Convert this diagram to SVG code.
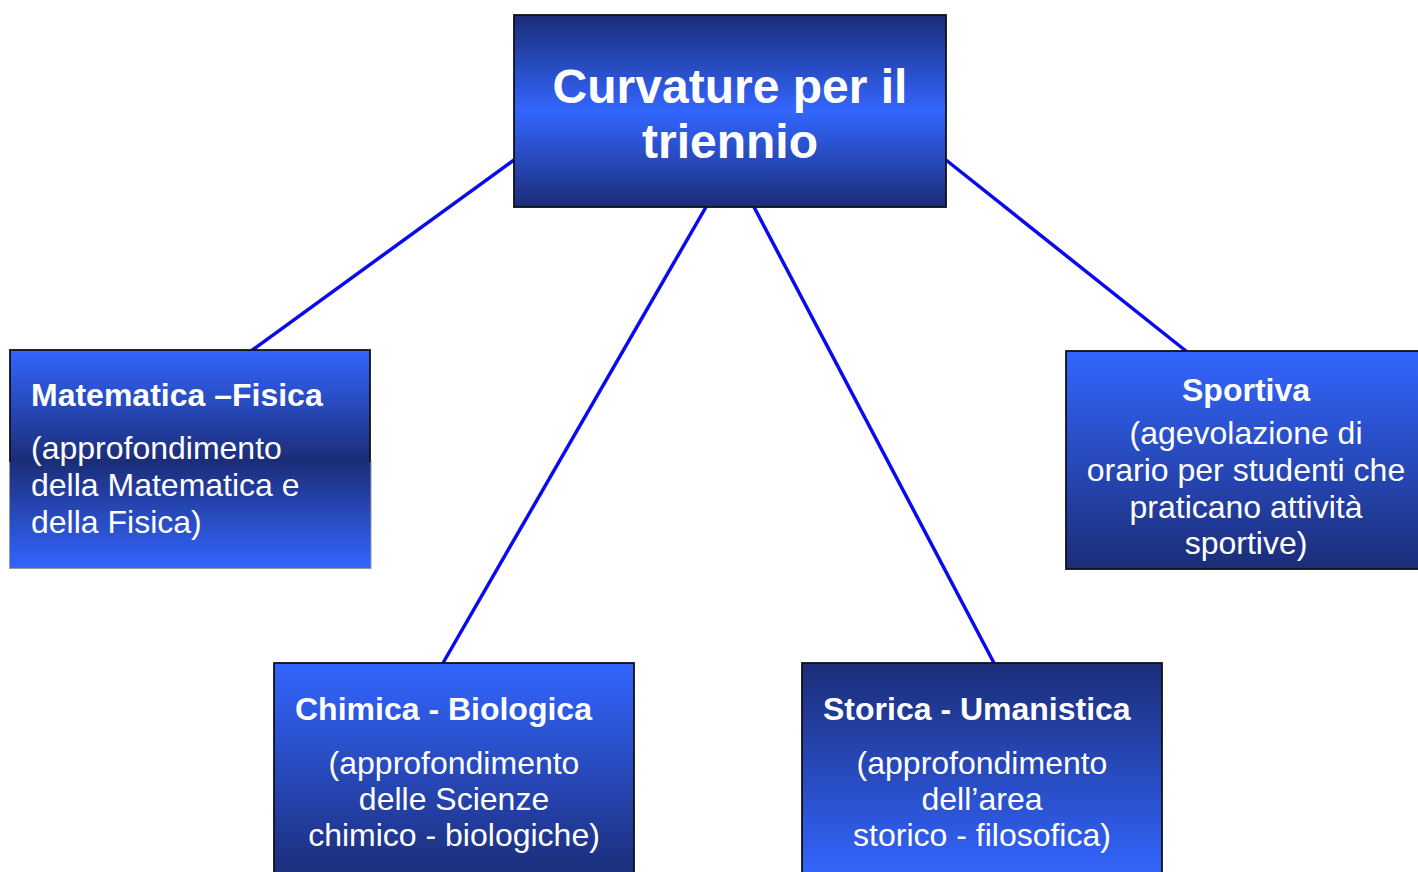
<svg xmlns="http://www.w3.org/2000/svg" width="1418" height="872" viewBox="0 0 1418 872">
<style>
.t{font-family:"Liberation Sans",Arial,sans-serif;fill:#fff}
.b{font-weight:bold;font-size:32px}
.r{font-size:32px}
.c{stroke:#0a0aee;stroke-width:3.5;fill:none}
.bx{stroke:#111;stroke-width:1.8}
</style>
<defs>
<linearGradient id="gMid" x1="0" y1="0" x2="0" y2="1">
<stop offset="0" stop-color="#1b2d78"/><stop offset="0.5" stop-color="#3366ff"/><stop offset="1" stop-color="#1b2d78"/>
</linearGradient>
<linearGradient id="gDown" x1="0" y1="0" x2="0" y2="1">
<stop offset="0" stop-color="#3366ff"/><stop offset="1" stop-color="#1b2d78"/>
</linearGradient>
<linearGradient id="gUp" x1="0" y1="0" x2="0" y2="1">
<stop offset="0" stop-color="#1b2d78"/><stop offset="1" stop-color="#3366ff"/>
</linearGradient>
</defs>
<rect width="1418" height="872" fill="#fff"/>
<g id="connectors">
<line class="c" x1="514" y1="160" x2="251" y2="351"/>
<line class="c" x1="706" y1="207" x2="443" y2="663"/>
<line class="c" x1="754" y1="207" x2="994" y2="663"/>
<line class="c" x1="946" y1="160" x2="1186" y2="351"/>
</g>
<g id="root">
<rect class="bx" x="514" y="15" width="432" height="192" fill="url(#gMid)"/>
<text class="t" x="730" y="103" font-size="48" font-weight="bold" text-anchor="middle">Curvature per il</text>
<text class="t" x="730" y="158" font-size="48" font-weight="bold" text-anchor="middle">triennio</text>
</g>
<g id="matematica">
<rect x="9.5" y="461" width="361.5" height="107.5" fill="url(#gUp)" stroke="#999" stroke-width="1"/>
<rect class="bx" x="10" y="350" width="360" height="111" fill="url(#gDown)"/>
<rect x="10.9" y="458" width="358.2" height="4" fill="#1b2d78"/>
<text class="t b" x="31" y="406">Matematica –Fisica</text>
<text class="t r" x="31" y="459">(approfondimento</text>
<text class="t r" x="31" y="496">della Matematica e</text>
<text class="t r" x="31" y="533">della Fisica)</text>
</g>
<g id="sportiva">
<rect class="bx" x="1066" y="351" width="356" height="218" fill="url(#gDown)"/>
<text class="t b" x="1246" y="401" text-anchor="middle">Sportiva</text>
<text class="t r" x="1246" y="444" text-anchor="middle">(agevolazione di</text>
<text class="t r" x="1246" y="481" text-anchor="middle">orario per studenti che</text>
<text class="t r" x="1246" y="518" text-anchor="middle">praticano attività</text>
<text class="t r" x="1246" y="554" text-anchor="middle">sportive)</text>
</g>
<g id="chimica">
<rect class="bx" x="274" y="663" width="360" height="215" fill="url(#gDown)"/>
<text class="t b" x="295" y="720">Chimica - Biologica</text>
<text class="t r" x="454" y="774" text-anchor="middle">(approfondimento</text>
<text class="t r" x="454" y="810" text-anchor="middle">delle Scienze</text>
<text class="t r" x="454" y="846" text-anchor="middle">chimico - biologiche)</text>
</g>
<g id="storica">
<rect class="bx" x="802" y="663" width="360" height="215" fill="url(#gUp)"/>
<text class="t b" x="823" y="720">Storica - Umanistica</text>
<text class="t r" x="982" y="774" text-anchor="middle">(approfondimento</text>
<text class="t r" x="982" y="810" text-anchor="middle">dell’area</text>
<text class="t r" x="982" y="846" text-anchor="middle">storico - filosofica)</text>
</g>
</svg>
